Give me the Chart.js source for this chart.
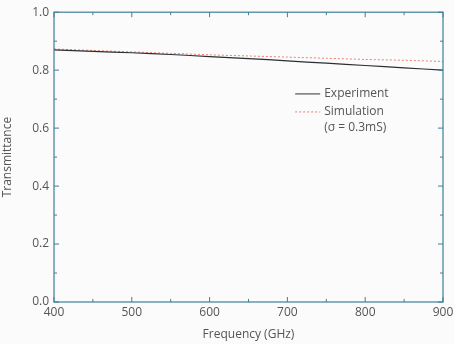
<!DOCTYPE html>
<html>
<head>
<meta charset="utf-8">
<script src="https://cdn.jsdelivr.net/npm/chart.js@4"></script>
<style>
  html, body { margin: 0; padding: 0; background: #fbfbfb; }
  #wrap { width: 454px; height: 344px; }
</style>
</head>
<body>
<div id="wrap"><canvas id="chart" width="454" height="344"></canvas></div>
<script>
// frequency points (GHz)
const frequency = [400, 450, 500, 550, 600, 650, 700, 750, 800, 850, 900];
// measured and simulated transmittance
const experiment = [0.870, 0.865, 0.860, 0.854, 0.847, 0.840, 0.832, 0.824, 0.816, 0.808, 0.800];
const simulation = [0.873, 0.868, 0.863, 0.858, 0.853, 0.849, 0.845, 0.841, 0.837, 0.834, 0.830];
const xTicks = [400, 500, 600, 700, 800, 900];
const yTicks = [0.0, 0.2, 0.4, 0.6, 0.8, 1.0];

const axisColor = "#3f7f97";
const textColor = "#555555";
const fontFamily = "'Open Sans', 'Noto Sans', sans-serif";

// draws the frame, inward ticks and the in-plot legend
const framePlugin = {
  id: "frame",
  afterDatasetsDraw(chart) {
    const { ctx, chartArea: a, scales } = chart;
    ctx.save();
    ctx.strokeStyle = axisColor;
    ctx.lineWidth = 1.2;
    ctx.strokeRect(a.left, a.top, a.right - a.left, a.bottom - a.top);

    ctx.lineWidth = 1;
    ctx.beginPath();
    for (let v = 400; v <= 900; v += 50) {
      const x = scales.x.getPixelForValue(v);
      const len = v % 100 === 0 ? 5 : 3;
      ctx.moveTo(x, a.bottom); ctx.lineTo(x, a.bottom - len);
      ctx.moveTo(x, a.top); ctx.lineTo(x, a.top + len);
    }
    for (let i = 0; i <= 10; i++) {
      const y = scales.y.getPixelForValue(i / 10);
      const len = i % 2 === 0 ? 5 : 3;
      ctx.moveTo(a.left, y); ctx.lineTo(a.left + len, y);
      ctx.moveTo(a.right, y); ctx.lineTo(a.right - len, y);
    }
    ctx.stroke();

    // legend
    const lx = a.left + (a.right - a.left) * 0.62;
    const ly = scales.y.getPixelForValue(0.718);
    ctx.font = "12px " + fontFamily;
    ctx.fillStyle = textColor;
    ctx.textBaseline = "middle";
    ctx.strokeStyle = "#333333";
    ctx.lineWidth = 1;
    ctx.beginPath(); ctx.moveTo(lx, ly); ctx.lineTo(lx + 25, ly); ctx.stroke();
    ctx.fillText("Experiment", lx + 29, ly);
    const ly2 = ly + 18;
    ctx.strokeStyle = "#e8806f";
    ctx.setLineDash([2, 2]);
    ctx.beginPath(); ctx.moveTo(lx, ly2); ctx.lineTo(lx + 25, ly2); ctx.stroke();
    ctx.setLineDash([]);
    ctx.fillText("Simulation", lx + 29, ly2);
    ctx.fillText("(\u03c3 = 0.3mS)", lx + 29, ly2 + 16);
    ctx.restore();
  }
};

new Chart(document.getElementById("chart"), {
  type: "line",
  data: {
    labels: frequency,
    datasets: [
      {
        label: "Experiment",
        data: frequency.map((f, i) => ({ x: f, y: experiment[i] })),
        borderColor: "#2a2f33",
        borderWidth: 1.2,
        pointRadius: 0,
        tension: 0.3
      },
      {
        label: "Simulation",
        data: frequency.map((f, i) => ({ x: f, y: simulation[i] })),
        borderColor: "#e8806f",
        borderWidth: 1,
        borderDash: [2, 2],
        pointRadius: 0,
        tension: 0.3
      }
    ]
  },
  options: {
    responsive: false,
    animation: false,
    layout: { padding: { top: 8, right: 0, left: 0, bottom: 0 } },
    plugins: { legend: { display: false }, tooltip: { enabled: false } },
    scales: {
      x: {
        type: "linear",
        min: 400,
        max: 900,
        afterBuildTicks: (s) => { s.ticks = xTicks.map((v) => ({ value: v })); },
        afterFit: (s) => { s.height = 42; s.paddingRight = 11; },
        grid: { display: false, drawTicks: false },
        border: { display: false },
        ticks: { color: textColor, padding: 3, font: { family: fontFamily, size: 12 } },
        title: {
          display: true,
          text: "Frequency (GHz)",
          color: textColor,
          padding: { top: 0, bottom: 2 },
          font: { family: fontFamily, size: 12 }
        }
      },
      y: {
        min: 0,
        max: 1,
        afterBuildTicks: (s) => { s.ticks = yTicks.map((v) => ({ value: v })); },
        afterFit: (s) => { s.width = 54; },
        grid: { display: false, drawTicks: false },
        border: { display: false },
        ticks: {
          color: textColor,
          padding: 5,
          font: { family: fontFamily, size: 12 },
          callback: (v) => v.toFixed(1)
        },
        title: {
          display: true,
          text: "Transmittance",
          color: textColor,
          padding: { top: 0, bottom: 4 },
          font: { family: fontFamily, size: 12 }
        }
      }
    }
  },
  plugins: [framePlugin]
});
</script>
</body>
</html>
